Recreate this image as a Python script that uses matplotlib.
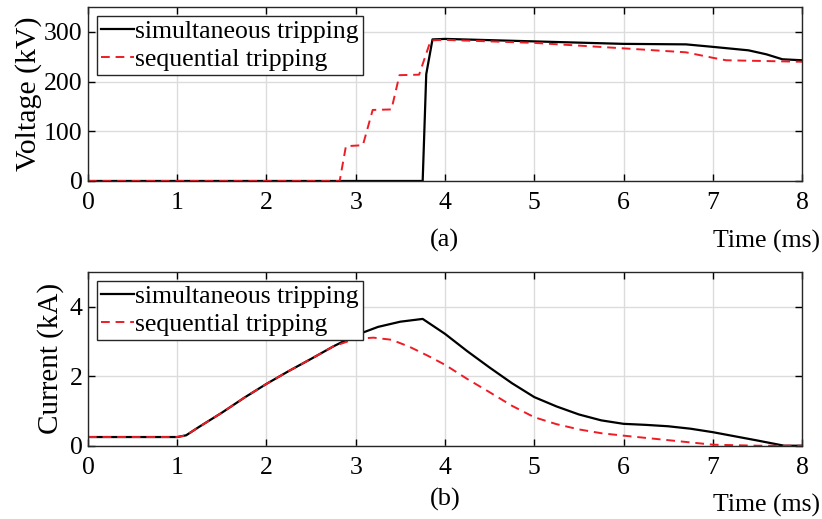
import matplotlib
matplotlib.use("Agg")
from matplotlib import pyplot as plt

plt.rcParams['font.family'] = ['Liberation Serif', 'DejaVu Serif']

# tensão (kV) - disparo simultâneo
t_v_sim = [0, 1, 2, 3, 3.75, 3.79, 3.86, 4, 5, 6, 6.7, 7, 7.4, 7.6, 7.78, 8]
v_sim = [0, 0, 0, 0, 0, 215, 285, 286, 281, 276, 275, 270, 263, 255, 245, 243]

# tensão (kV) - disparo sequencial
t_v_seq = [0, 1, 2, 2.82, 2.89, 3.08, 3.19, 3.40, 3.49, 3.71, 3.84, 4, 5, 6, 6.7, 7, 7.15, 8]
v_seq = [0, 0, 0, 0, 70, 72, 143, 144, 213, 214, 283, 284, 278, 267, 259, 248, 243, 240]

# corrente (kA)
t_i_sim = [0, 0.5, 1.0, 1.1, 1.25, 1.5, 1.75, 2, 2.25, 2.5, 2.75, 3, 3.25, 3.5, 3.75,
           4, 4.25, 4.5, 4.75, 5, 5.25, 5.5, 5.75, 6, 6.25, 6.5, 6.75, 7, 7.25, 7.5, 7.8, 8]
i_sim = [0.25, 0.25, 0.25, 0.3, 0.55, 0.95, 1.38, 1.78, 2.15, 2.5, 2.86, 3.18, 3.42, 3.57, 3.65,
         3.22, 2.72, 2.25, 1.8, 1.4, 1.13, 0.9, 0.73, 0.63, 0.6, 0.56, 0.49, 0.39, 0.27, 0.15, 0.0, 0.0]

t_i_seq = [0, 0.5, 1.0, 1.1, 1.25, 1.5, 1.75, 2, 2.25, 2.5, 2.75, 3, 3.2, 3.4, 3.6, 3.8,
           4, 4.25, 4.5, 4.75, 5, 5.25, 5.5, 5.75, 6, 6.5, 7, 7.5, 8]
i_seq = [0.25, 0.25, 0.25, 0.3, 0.55, 0.95, 1.38, 1.78, 2.15, 2.5, 2.86, 3.08, 3.11, 3.05, 2.85, 2.6,
         2.33, 1.92, 1.54, 1.15, 0.82, 0.62, 0.47, 0.36, 0.29, 0.16, 0.03, 0.0, 0.0]

labels = ['simultaneous tripping', 'sequential tripping']

fig = plt.figure(figsize=(8.22, 5.19), dpi=100)
ax1 = fig.add_axes([0.107, 0.6513, 0.8687, 0.335])
ax2 = fig.add_axes([0.107, 0.1412, 0.8687, 0.3347])


def estilo(ax):
    ax.grid(True, color='#dcdcdc', linewidth=1)
    ax.set_axisbelow(True)
    ax.tick_params(direction='in', top=True, right=True, labelsize=18.5, length=5, width=1)
    ax.tick_params(axis='x', pad=8)
    ax.tick_params(axis='y', pad=4)
    for s in ax.spines.values():
        s.set_linewidth(1)
        s.set_color('#262626')
    ax.set_xlim(0, 8)
    ax.set_xticks(range(0, 9))
    leg = ax.legend(loc='upper left', fontsize=18.5, fancybox=False, framealpha=1,
                    edgecolor='#262626', handlelength=1.3, handletextpad=0.05,
                    borderpad=0.15, labelspacing=0.2, borderaxespad=0.35)
    leg.get_frame().set_linewidth(1)


ax1.plot(t_v_sim, v_sim, '-', color='black', lw=1.6, label=labels[0])
ax1.plot(t_v_seq, v_seq, '--', color='#ee1c25', lw=1.4, dashes=(4.5, 3), label=labels[1])
ax1.set_ylim(0, 350)
ax1.set_yticks([0, 100, 200, 300])
ax1.set_ylabel('Voltage (kV)', fontsize=21.5, labelpad=1)
estilo(ax1)

ax2.plot(t_i_sim, i_sim, '-', color='black', lw=1.6, label=labels[0])
ax2.plot(t_i_seq, i_seq, '--', color='#ee1c25', lw=1.4, dashes=(4.5, 3), label=labels[1])
ax2.set_ylim(0, 5)
ax2.set_yticks([0, 2, 4])
ax2.set_ylabel('Current (kA)', fontsize=21, labelpad=4)
estilo(ax2)

fig.text(444 / 822, 1 - 240 / 519, '(a)', fontsize=19, ha='center', va='center')
fig.text(820 / 822, 1 - 241 / 519, 'Time (ms)', fontsize=18.5, ha='right', va='center')
fig.text(445 / 822, 1 - 499 / 519, '(b)', fontsize=19, ha='center', va='center')
fig.text(820 / 822, 1 - 505 / 519, 'Time (ms)', fontsize=18.5, ha='right', va='center')

fig.savefig('out.png', dpi=100)
